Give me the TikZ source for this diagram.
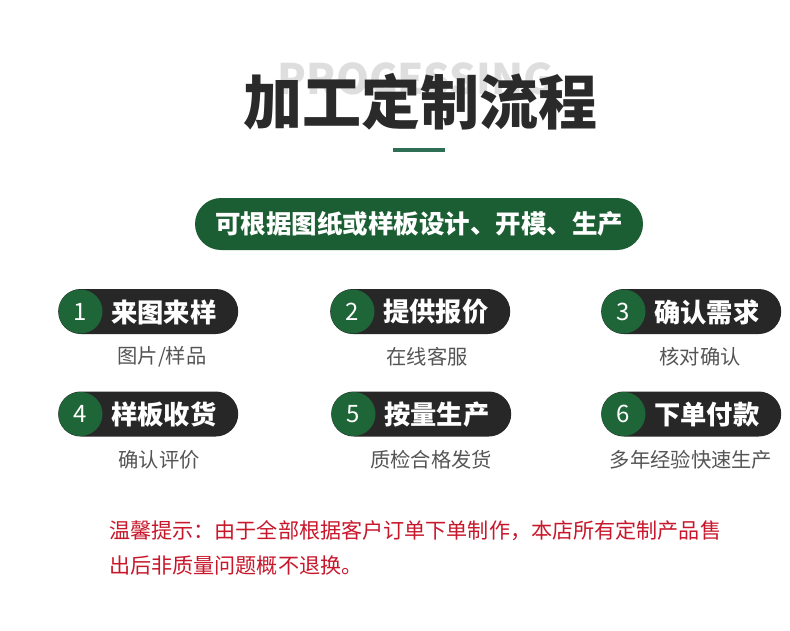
\documentclass[tikz,border=0pt]{standalone}
\usepackage{fontspec}
\newfontfamily\cjk{Noto Sans CJK SC}
\definecolor{pillgreen}{HTML}{1C5E33}
\definecolor{circgreen}{HTML}{1E6638}
\definecolor{pilldark}{HTML}{272727}
\definecolor{bargreen}{HTML}{2D6E55}
\definecolor{subgray}{HTML}{555555}
\definecolor{notered}{HTML}{C8172B}
\definecolor{titledark}{HTML}{2A2A2A}
\definecolor{ghost}{HTML}{DEDEDE}
\tikzset{
  stepbox/.style={fill=pilldark, rounded corners=22.5pt, minimum width=180pt, minimum height=45pt, inner sep=0pt, draw=none},
  numcirc/.style={circle, fill=circgreen, minimum size=44pt, inner sep=0pt, text=white, font=\cjk\fontsize{24}{24}\selectfont},
  steptext/.style={anchor=west, text=white, inner sep=0pt, font=\cjk\fontsize{26.3}{26.3}\selectfont\bfseries},
  subtext/.style={text=subgray, inner sep=0pt, font=\cjk\fontsize{20.3}{20.3}\selectfont},
  notetext/.style={anchor=west, text=notered, inner sep=0pt, font=\cjk\fontsize{21.1}{21.1}\selectfont},
}
\begin{document}
\begin{tikzpicture}[x=1pt,y=-1pt]
\useasboundingbox (0,0) rectangle (790,630);
\fill[white] (0,0) rectangle (790,630);
% ghost word and title
\node[text=ghost, inner sep=0pt, anchor=north, font=\cjk\fontsize{42}{42}\selectfont\bfseries] (ghostw) at (416,62) {PROCESSING};
\node[text=titledark, inner sep=0pt, font=\cjk\fontsize{59}{59}\selectfont\bfseries] (title) at (420,102) {加工定制流程};
\fill[bargreen] (393,147.5) rectangle (445,151.5);
% banner
\node[fill=pillgreen, rounded corners=26pt, minimum width=448pt, minimum height=52pt, inner sep=0pt, text=white, font=\cjk\fontsize{25.5}{25.5}\selectfont\bfseries] (banner) at (419,224) {可根据图纸或样板设计、开模、生产};
% steps
\foreach \n/\px/\py/\ttl/\subt/\sx in {
  1/58/311.5/来图来样/{图片/样品}/162,
  2/330/311.5/提供报价/在线客服/427,
  3/601/311.5/确认需求/核对确认/700,
  4/58/414/样板收货/确认评价/159,
  5/331/414/按量生产/质检合格发货/431,
  6/601/414/下单付款/多年经验快速生产/691}{
  \node[stepbox, anchor=west] (p\n) at (\px,\py) {};
  \node[numcirc] (c\n) at (\px+22.5,\py) {\n};
  \node[steptext] (t\n) at (\px+53,\py+0.5) {\ttl};
  \node[subtext] (s\n) at (\sx,\py+45.5) {\subt};
}
% note
\node[notetext] (note1) at (109,531) {温馨提示：由于全部根据客户订单下单制作，本店所有定制产品售};
\node[notetext] (note2) at (109,565) {出后非质量问题概不退换。};
\end{tikzpicture}
\end{document}
